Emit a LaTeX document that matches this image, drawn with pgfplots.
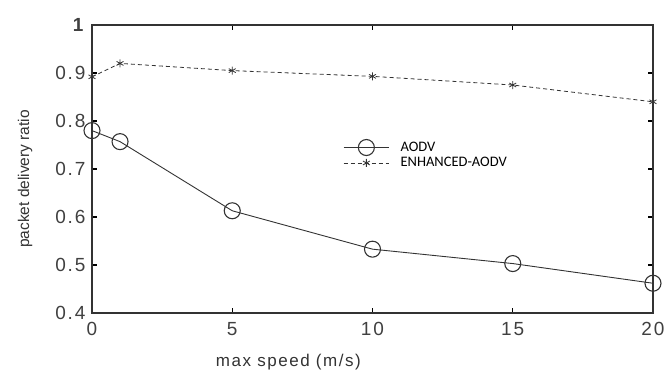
\documentclass[border=0pt]{standalone}
\usepackage{pgfplots}
\pgfplotsset{compat=1.18}
\usepackage{fontspec}
\setmainfont{Liberation Sans}
\newfontfamily\tickfont[LetterSpace=10]{Liberation Sans}
\newfontfamily\labfont[LetterSpace=9]{Liberation Sans}
\newfontfamily\legfont{Carlito}
\begin{document}
\begin{tikzpicture}
\useasboundingbox (-92pt,-60pt) rectangle (573pt,313pt);
\begin{axis}[
  at={(0,0)}, anchor=south west,
  scale only axis, width=561pt, height=288pt,
  xmin=0, xmax=20, ymin=0.4, ymax=1,
  xtick={0,5,10,15,20}, ytick={0.4,0.5,0.6,0.7,0.8,0.9,1},
  yticklabels={0.4,0.5,0.6,0.7,0.8,0.9,\textbf{1}},
  tick align=inside, major tick length=5pt,
  tick style={black, line width=1.2pt},
  axis line style={black!80, line width=1.4pt},
  /pgf/number format/assume math mode=true,
  ticklabel style={font=\tickfont\fontsize{19}{21}\selectfont, text=black!75},
  xticklabel style={yshift=-6pt},
  yticklabel style={xshift=-3pt},
  xlabel={max speed (m/s)}, ylabel={packet delivery ratio},
  xlabel style={font=\labfont\fontsize{17}{19}\selectfont, text=black!80, at={(axis description cs:0.35,-0.17)}, anchor=center},
  ylabel style={font=\fontsize{15.5}{18}\selectfont, text=black!80, yshift=16pt, xshift=-10pt},
  legend style={draw=none, fill=none, font=\legfont\fontsize{14.5}{16}\selectfont, at={(0.442,0.61)}, anchor=north west, row sep=0pt,
    /tikz/every odd column/.append style={column sep=9pt}},
  legend image code/.code={\draw[mark repeat=2,mark phase=2,#1] plot coordinates {(0cm,0cm) (0.8cm,0cm) (1.6cm,0cm)};},
  legend cell align=left,
  clip=false,
]
\addplot[black!80, line width=0.9pt, mark=o, mark size=8pt, mark options={solid, line width=1.1pt}]
  coordinates {(0,0.78) (1,0.757) (5,0.613) (10,0.533) (15,0.503) (20,0.462)};
\addlegendentry{AODV}
\addplot[black!80, line width=0.8pt, dash pattern=on 4pt off 3pt, mark=asterisk, mark size=4pt, mark options={solid}]
  coordinates {(0,0.892) (1,0.92) (5,0.905) (10,0.893) (15,0.875) (20,0.84)};
\addlegendentry{ENHANCED-AODV}
\end{axis}
\end{tikzpicture}
\end{document}
